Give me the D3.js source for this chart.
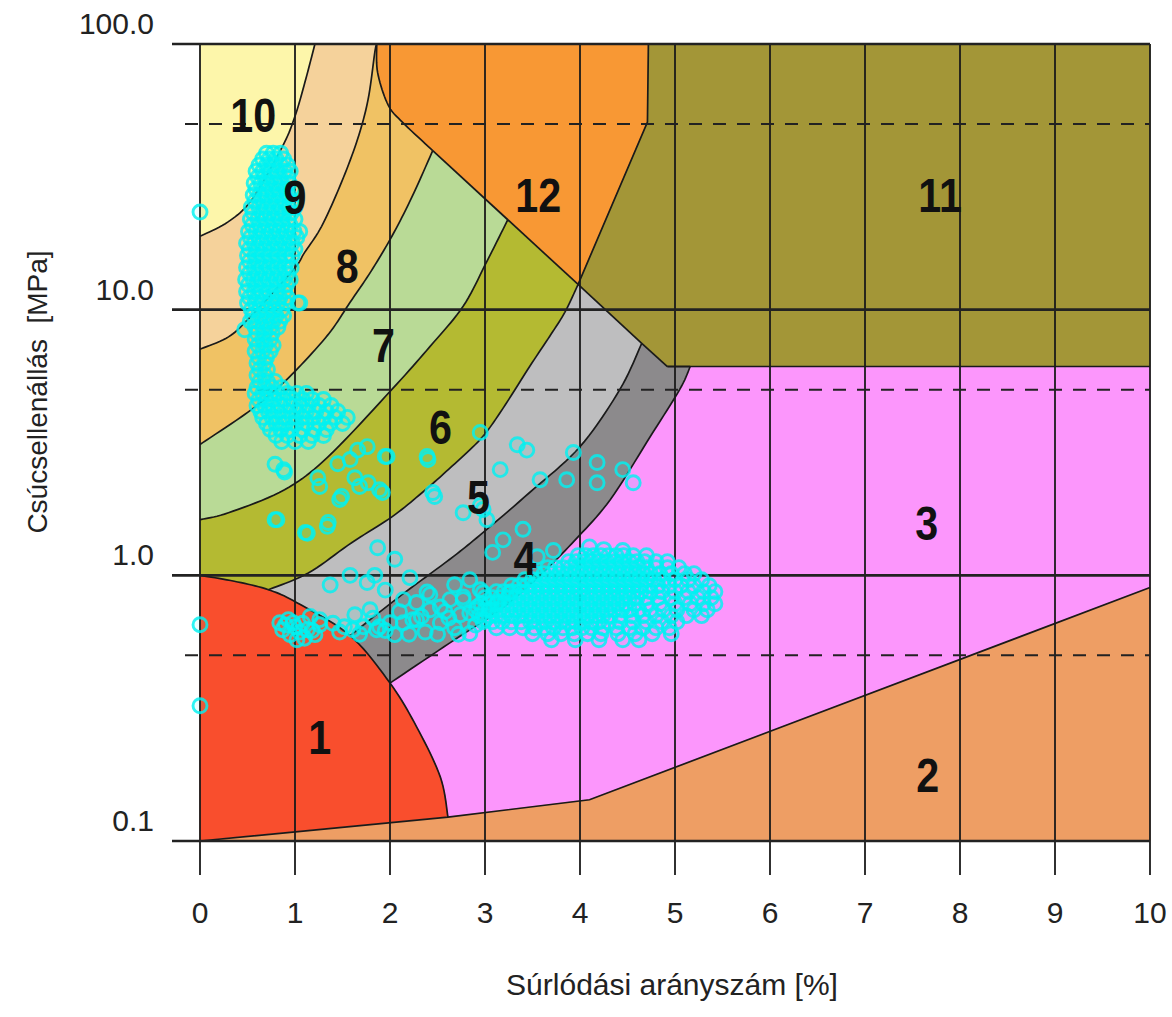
<!DOCTYPE html>
<html>
<head>
<meta charset="utf-8">
<script src="https://cdn.jsdelivr.net/npm/d3@7"></script>
<style>
  body { margin: 0; background: #fff; }
  text { font-family: "Liberation Sans", Arial, Helvetica, sans-serif; }
</style>
</head>
<body>
<svg id="chart" width="1172" height="1017"></svg>
<script>
// ---------------- Axis ticks ----------------
const xTicks = [0, 1, 2, 3, 4, 5, 6, 7, 8, 9, 10];
const yTicksSolid = [0.1, 1, 10, 100];
const yTickLabels = ["0.1", "1.0", "10.0", "100.0"];
const yTicksDashed = [0.5, 5, 50];

// ---------------- Zone boundaries (Rf %, qc MPa) ----------------
// junctions on the diagonal limit of zones 12 / 11
const Ja = [1.86, 100];   // top of the 9/8 limit
const Jb = [2.45, 39.7];  // 8/7 limit meets the diagonal
const Jc = [3.24, 21.8];  // 7/6 limit meets the diagonal
const Jd = [3.98, 12.45]; // 6/5 and 12/11 limits meet the diagonal
const Je = [4.65, 7.47];  // 5/4 limit meets the diagonal
const Jf = [4.92, 6.11];  // end of the diagonal, floor of zone 11
const Jg = [5.16, 6.11];  // top of the 4/3 limit

const edge10_9 = [[1.21, 100], [1.105, 71.9], [1.0, 53.5], [0.87, 41.3], [0.55, 26.1], [0.295, 21.4], [0, 18.9]];
const edge9_8 = [Ja, [1.84, 93], [1.77, 62], [1.66, 44], [1.49, 30.2], [1.28, 20.6], [1.1, 16.4], [0.98, 14.1], [0.53, 9.4], [0.3, 7.9], [0, 7.1]];
const edge12 = [Ja, [1.87, 78], [1.98, 59], [2.13, 50.8], Jb];
const edge8_7 = [Jb, [2.23, 26.5], [2.02, 18.9], [1.8, 13.94], [1.58, 10.66], [1.35, 8.07], [1.0, 5.86], [0.74, 4.80], [0.47, 4.03], [0, 3.11]];
const edge7_6 = [Jc, [3.02, 15.2], [2.77, 10.3], [2.42, 7.26], [2.02, 5.01], [1.35, 2.80], [0.89, 2.10], [0.3, 1.72], [0, 1.62]];
const edge6_5 = [Jd, [3.84, 9.77], [3.68, 7.93], [3.47, 6.11], [3.16, 4.10], [2.95, 3.25], [2.65, 2.57], [2.34, 2.05], [2.02, 1.66], [1.6, 1.33], [1.14, 1.02], [0.72, 0.883]];
const edge5_4 = [Je, [4.42, 5.01], [4.0, 3.05], [3.47, 2.05], [2.95, 1.42], [2.63, 1.15], [2.1, 0.832], [1.58, 0.593]];
const edge4_3 = [Jg, [5.05, 5.01], [4.74, 3.33], [4.32, 1.93], [3.95, 1.36], [3.58, 1.0], [3.16, 0.743], [2.63, 0.557], [2.0, 0.393]];
const edge12_11 = [[4.72, 100], [4.71, 50.8], Jd];
// limit of zone 1; nodes 2, 4 and 5 are where the 6/5, 5/4 and 4/3 limits end
const edge1 = [[0, 1.0], [0.36, 0.95], [0.72, 0.883], [1.02, 0.789], [1.58, 0.593], [2.0, 0.393], [2.28, 0.269], [2.53, 0.174], [2.61, 0.123]];
const edge2 = [[0, 0.1], [2.61, 0.123], [4.1, 0.143], [10, 0.9]];

const zoneColors = {
  1: "#f94e2d", 2: "#ee9e64", 3: "#fc96fc", 4: "#8c8a8c", 5: "#bebebf", 6: "#b4ba32",
  7: "#b9da96", 8: "#f0c264", 9: "#f5d29b", 10: "#fdf6aa", 11: "#a39637", 12: "#f89834"
};

const zoneLabels = [
  { id: "10", rf: 0.56, qc: 54 },
  { id: "9", rf: 1.0, qc: 26.7 },
  { id: "8", rf: 1.55, qc: 14.6 },
  { id: "7", rf: 1.93, qc: 7.4 },
  { id: "6", rf: 2.53, qc: 3.63 },
  { id: "5", rf: 2.93, qc: 1.98 },
  { id: "4", rf: 3.42, qc: 1.166 },
  { id: "3", rf: 7.65, qc: 1.58 },
  { id: "12", rf: 3.56, qc: 27.2 },
  { id: "11", rf: 7.79, qc: 27.0 },
  { id: "1", rf: 1.26, qc: 0.247 },
  { id: "2", rf: 7.66, qc: 0.177 }
];

// ---------------- CPT measurements ----------------
// upper column: [qc, Rf values measured at that qc]
const columnRows = [
  [38.8, [0.70, 0.77, 0.85]],
  [36.9, [0.66, 0.73, 0.80, 0.88]],
  [35.0, [0.62, 0.70, 0.77, 0.85, 0.92]],
  [33.2, [0.59, 0.66, 0.74, 0.81, 0.89, 0.95]],
  [31.5, [0.61, 0.68, 0.76, 0.84, 0.92]],
  [29.9, [0.57, 0.64, 0.71, 0.79, 0.86, 0.94]],
  [28.4, [0.59, 0.67, 0.75, 0.82, 0.90, 0.97]],
  [27.0, [0.56, 0.63, 0.70, 0.78, 0.85, 0.93]],
  [25.6, [0.58, 0.66, 0.74, 0.81, 0.89, 0.97]],
  [24.3, [0.54, 0.62, 0.70, 0.77, 0.85, 0.93, 1.00]],
  [23.1, [0.56, 0.65, 0.73, 0.81, 0.89, 0.96]],
  [21.9, [0.53, 0.61, 0.69, 0.77, 0.85, 0.93, 1.00]],
  [20.8, [0.55, 0.63, 0.71, 0.79, 0.87, 0.95]],
  [19.7, [0.51, 0.59, 0.67, 0.75, 0.83, 0.91, 0.99, 1.05]],
  [18.7, [0.53, 0.62, 0.70, 0.78, 0.86, 0.94, 1.02]],
  [17.8, [0.49, 0.57, 0.65, 0.73, 0.81, 0.89, 0.97]],
  [16.9, [0.52, 0.60, 0.68, 0.76, 0.84, 0.92, 1.00]],
  [16.0, [0.50, 0.58, 0.66, 0.74, 0.82, 0.90, 0.97]],
  [15.2, [0.52, 0.60, 0.68, 0.76, 0.84, 0.92]],
  [14.4, [0.49, 0.57, 0.65, 0.73, 0.81, 0.89, 0.96]],
  [13.7, [0.52, 0.60, 0.68, 0.76, 0.84, 0.92]],
  [13.0, [0.48, 0.56, 0.64, 0.72, 0.80, 0.88, 0.95]],
  [12.4, [0.51, 0.59, 0.67, 0.75, 0.83, 0.91]],
  [11.7, [0.49, 0.57, 0.65, 0.73, 0.81, 0.89]],
  [11.1, [0.52, 0.60, 0.68, 0.76, 0.84, 0.92]],
  [10.6, [0.50, 0.58, 0.66, 0.74, 0.82, 0.90, 1.03]],
  [10.0, [0.54, 0.62, 0.70, 0.78, 0.86]],
  [9.5, [0.56, 0.64, 0.72, 0.80, 0.88]],
  [9.04, [0.53, 0.61, 0.69, 0.77, 0.84]],
  [8.58, [0.58, 0.66, 0.74, 0.82]],
  [8.15, [0.60, 0.68, 0.76]],
  [7.73, [0.58, 0.66, 0.74]],
  [7.34, [0.61, 0.69, 0.77]],
  [6.97, [0.58, 0.66, 0.74]],
  [6.61, [0.62, 0.70]],
  [6.28, [0.60, 0.68]],
  [5.96, [0.63, 0.71]],
  [5.66, [0.60, 0.68]],
  [5.37, [0.63, 0.71, 0.79]],
  [5.10, [0.60, 0.68, 0.76, 0.86]],
  [4.84, [0.58, 0.66, 0.74, 0.82, 0.92, 1.02, 1.12]],
  [4.59, [0.62, 0.70, 0.78, 0.88, 0.98, 1.08, 1.18, 1.30]],
  [4.36, [0.60, 0.68, 0.76, 0.85, 0.95, 1.05, 1.14, 1.25, 1.38]],
  [4.14, [0.64, 0.72, 0.82, 0.92, 1.02, 1.12, 1.22, 1.33, 1.45]],
  [3.93, [0.66, 0.76, 0.87, 0.97, 1.08, 1.19, 1.30, 1.42, 1.55]],
  [3.73, [0.70, 0.80, 0.90, 1.01, 1.12, 1.25, 1.37, 1.50]],
  [3.54, [0.74, 0.85, 0.96, 1.08, 1.20, 1.33]],
  [3.36, [0.80, 0.92, 1.05, 1.18, 1.30]],
  [3.19, [0.86, 1.00, 1.14]]
];

// lower band around qc = 1 MPa: [qc, Rf values]
const bandRows = [
  [1.186, [3.98, 4.06, 4.14, 4.22, 4.30, 4.38, 4.46, 4.56, 4.70]],
  [1.126, [3.88, 3.96, 4.04, 4.12, 4.20, 4.28, 4.36, 4.44, 4.52, 4.60, 4.68, 4.80, 4.92]],
  [1.069, [3.66, 3.74, 3.82, 3.90, 3.98, 4.06, 4.14, 4.22, 4.30, 4.38, 4.46, 4.54, 4.62, 4.70, 4.80, 4.92, 5.04]],
  [1.015, [3.54, 3.62, 3.70, 3.78, 3.86, 3.94, 4.02, 4.10, 4.18, 4.26, 4.34, 4.42, 4.50, 4.58, 4.66, 4.74, 4.84, 4.96, 5.10, 5.20]],
  [0.963, [3.42, 3.50, 3.58, 3.66, 3.74, 3.82, 3.90, 3.98, 4.06, 4.14, 4.22, 4.30, 4.38, 4.46, 4.54, 4.62, 4.70, 4.78, 4.88, 5.00, 5.14, 5.28]],
  [0.914, [3.28, 3.36, 3.44, 3.52, 3.60, 3.68, 3.76, 3.84, 3.92, 4.00, 4.08, 4.16, 4.24, 4.32, 4.40, 4.48, 4.56, 4.64, 4.72, 4.82, 4.94, 5.06, 5.20, 5.36]],
  [0.868, [3.12, 3.20, 3.28, 3.36, 3.44, 3.52, 3.60, 3.68, 3.76, 3.84, 3.92, 4.00, 4.08, 4.16, 4.24, 4.32, 4.40, 4.48, 4.56, 4.64, 4.74, 4.86, 5.00, 5.14, 5.30, 5.42]],
  [0.824, [3.00, 3.08, 3.16, 3.24, 3.32, 3.40, 3.48, 3.56, 3.64, 3.72, 3.80, 3.88, 3.96, 4.04, 4.12, 4.20, 4.28, 4.36, 4.44, 4.52, 4.60, 4.70, 4.82, 4.96, 5.10, 5.24, 5.38]],
  [0.782, [2.96, 3.04, 3.12, 3.20, 3.28, 3.36, 3.44, 3.52, 3.60, 3.68, 3.76, 3.84, 3.92, 4.00, 4.08, 4.16, 4.24, 4.32, 4.40, 4.48, 4.58, 4.70, 4.84, 5.00, 5.16, 5.30, 5.42]],
  [0.742, [2.90, 3.00, 3.08, 3.16, 3.24, 3.32, 3.40, 3.48, 3.56, 3.64, 3.72, 3.80, 3.88, 3.96, 4.04, 4.12, 4.20, 4.28, 4.36, 4.44, 4.52, 4.62, 4.74, 4.88, 5.02, 5.20, 5.34]],
  [0.705, [2.94, 3.04, 3.12, 3.20, 3.28, 3.36, 3.44, 3.52, 3.60, 3.68, 3.76, 3.84, 3.92, 4.00, 4.08, 4.16, 4.24, 4.32, 4.42, 4.54, 4.66, 4.80, 4.96, 5.12, 5.28]],
  [0.669, [2.98, 3.08, 3.18, 3.28, 3.38, 3.48, 3.56, 3.64, 3.72, 3.80, 3.88, 3.96, 4.04, 4.12, 4.20, 4.30, 4.42, 4.56, 4.70, 4.86, 5.02]],
  [0.635, [3.12, 3.26, 3.40, 3.52, 3.62, 3.72, 3.82, 3.92, 4.02, 4.12, 4.24, 4.38, 4.52, 4.66, 4.80, 4.94]],
  [0.603, [3.50, 3.66, 3.80, 3.94, 4.08, 4.22, 4.40, 4.58, 4.76, 4.96]],
  [0.572, [3.70, 3.95, 4.20, 4.45, 4.62]]
];

// single readings: [Rf, qc]
const singlePoints = [
  [0, 23.3], [0, 0.652], [0, 0.323], [1.05, 10.6], [0.47, 8.4],
  [0.89, 2.45], [0.79, 2.62], [0.81, 1.62], [1.13, 1.44], [1.34, 1.53], [0.88, 2.50],
  [1.26, 2.16], [1.47, 1.93], [1.68, 2.16], [1.76, 3.05], [1.97, 2.80], [1.89, 2.10],
  [1.58, 2.73], [2.39, 2.80], [2.45, 2.05], [2.77, 1.72], [2.95, 3.45], [3.16, 2.50],
  [3.44, 2.96], [3.58, 2.29], [3.86, 2.29], [4.18, 2.66], [4.18, 2.23], [4.45, 2.50],
  [4.56, 2.23], [3.93, 2.90], [2.98, 1.77], [3.08, 1.22], [3.19, 1.36], [3.40, 1.49],
  [3.72, 1.24], [3.55, 1.175], [1.24, 2.33], [1.45, 2.63], [1.49, 1.98], [1.63, 2.33],
  [1.77, 2.23], [1.95, 2.80], [1.92, 2.05], [1.66, 2.96], [1.35, 1.58], [1.11, 1.45],
  [0.79, 1.62], [2.40, 2.73], [2.47, 1.98], [2.95, 1.83], [3.02, 1.62], [3.34, 3.1],
  [1.87, 1.27], [2.05, 1.15], [2.21, 0.98], [1.84, 1.0], [1.58, 1.0], [1.95, 0.88], [1.37, 0.92],
  [4.10, 1.28], [4.25, 1.25], [4.45, 1.24],
  [0.98, 0.663], [1.13, 0.624], [0.87, 0.624], [1.02, 0.572], [1.26, 0.652], [1.16, 0.70],
  [0.93, 0.681], [1.05, 0.612], [1.21, 0.598], [0.95, 0.598],
  [1.00, 0.64], [1.08, 0.66], [0.90, 0.65], [1.18, 0.62], [1.10, 0.58],
  [1.72, 0.64], [1.86, 0.624], [2.0, 0.663], [2.14, 0.663], [2.28, 0.681], [2.42, 0.742],
  [2.53, 0.663], [2.63, 0.81], [2.77, 0.83], [2.84, 0.72], [2.98, 0.86], [3.13, 0.79],
  [3.26, 0.86], [2.28, 0.79], [2.14, 0.81], [1.26, 0.681], [1.61, 0.624], [1.89, 0.64],
  [2.24, 0.681], [2.53, 0.76], [2.77, 0.81], [2.95, 0.883], [0.84, 0.663], [1.76, 0.94],
  [2.39, 0.865], [1.47, 0.612], [1.63, 0.711], [1.79, 0.742], [2.05, 0.598], [2.37, 0.612],
  [2.68, 0.635], [2.84, 0.604], [3.0, 0.681], [2.74, 0.711], [2.58, 0.73], [2.1, 0.73],
  [2.42, 0.846], [2.68, 0.922], [2.84, 0.963],
  [1.40, 0.66], [1.52, 0.64], [1.68, 0.60], [1.82, 0.69], [1.95, 0.62], [2.20, 0.60],
  [2.33, 0.70], [2.50, 0.60], [2.62, 0.69], [2.72, 0.60], [2.90, 0.65], [2.92, 0.76], [3.05, 0.74]
];

// ---------------- Scales ----------------
const svg = d3.select("#chart");
const x = d3.scaleLinear().domain([0, 10]).range([200, 1150]);
const y = d3.scaleLog().domain([0.1, 100]).range([841, 44]);
const P = d => [x(d[0]), y(d[1])];

// Catmull-Rom through the boundary nodes, sampled in screen space
const STEPS = 10;
function smooth(nodes) {
  const p = nodes.map(P), n = p.length;
  if (n < 3) return p;
  const out = [];
  for (let i = 0; i < n - 1; i++) {
    const p0 = p[Math.max(i - 1, 0)], p1 = p[i], p2 = p[i + 1], p3 = p[Math.min(i + 2, n - 1)];
    for (let k = 0; k < STEPS; k++) {
      const t = k / STEPS, t2 = t * t, t3 = t2 * t;
      out.push([0, 1].map(j => 0.5 * (2 * p1[j] + (-p0[j] + p2[j]) * t +
        (2 * p0[j] - 5 * p1[j] + 4 * p2[j] - p3[j]) * t2 +
        (-p0[j] + 3 * p1[j] - 3 * p2[j] + p3[j]) * t3)));
    }
  }
  out.push(p[n - 1]);
  return out;
}
const straight = nodes => nodes.map(P);
const rev = a => a.slice().reverse();

const b10 = smooth(edge10_9), b9 = smooth(edge9_8), b12 = smooth(edge12), b8 = smooth(edge8_7);
const b7 = smooth(edge7_6), b6 = smooth(edge6_5), b5 = smooth(edge5_4), b4 = smooth(edge4_3);
const b11 = straight(edge12_11);
const diag1 = straight([Jb, Jc]), diag2 = straight([Jc, Jd]), diag3 = straight([Jd, Je]), diag4 = straight([Je, Jf]);
const top4 = straight([Jf, Jg]);
const arc = smooth(edge1);
const arc6 = arc.slice(0, 2 * STEPS + 1);
const arc5 = arc.slice(2 * STEPS, 4 * STEPS + 1);
const arc4 = arc.slice(4 * STEPS, 5 * STEPS + 1);
const arcTail = arc.slice(5 * STEPS);
const floor2 = straight(edge2);

const zones = [
  { id: 10, pts: [P([0, 100])].concat(b10) },
  { id: 9, pts: b9.concat(rev(b10)) },
  { id: 8, pts: b12.concat(b8, rev(b9)) },
  { id: 7, pts: diag1.concat(b7, rev(b8)) },
  { id: 6, pts: diag2.concat(b6, rev(arc6), rev(b7)) },
  { id: 5, pts: diag3.concat(b5, rev(arc5), rev(b6)) },
  { id: 4, pts: diag4.concat(top4, b4, rev(arc4), rev(b5)) },
  { id: 3, pts: straight([Jg, [10, Jg[1]], edge2[3]]).concat(rev(floor2).slice(1, 3), rev(arcTail), rev(b4)) },
  { id: 1, pts: arc.concat([P([0, 0.1])]) },
  { id: 2, pts: floor2.concat([P([10, 0.1])]) },
  { id: 12, pts: straight([Ja, [4.72, 100]]).concat(b11, rev(diag2), rev(diag1), rev(b12)) },
  { id: 11, pts: straight([[4.72, 100], [10, 100], [10, Jf[1]], Jf]).concat(rev(diag4), rev(diag3), rev(b11)) }
];

const line = d3.line();
svg.append("g").selectAll("path").data(zones).join("path")
  .attr("d", z => line(z.pts) + "Z")
  .attr("fill", z => zoneColors[z.id])
  .attr("stroke", z => zoneColors[z.id])
  .attr("stroke-width", 0.8);

// zone limits
const limits = [b10, b9, b12, b8, b7, b6, b5, b4, b11, diag1, diag2, diag3, diag4, top4, arc, floor2,
  straight([Jf, [10, Jf[1]]])];
svg.append("g").selectAll("path").data(limits).join("path")
  .attr("d", d => line(d))
  .attr("fill", "none").attr("stroke", "#1a1a1a").attr("stroke-width", 1.7);

// ---------------- Grid ----------------
const grid = svg.append("g");
grid.selectAll("line.v").data(xTicks).join("line")
  .attr("x1", d => x(d)).attr("x2", d => x(d))
  .attr("y1", y(100)).attr("y2", y(0.1) + 34)
  .attr("stroke", "#1a1a1a").attr("stroke-width", 1.8);
grid.selectAll("line.h").data(yTicksSolid).join("line")
  .attr("x1", x(0) - 28).attr("x2", x(10))
  .attr("y1", d => y(d)).attr("y2", d => y(d))
  .attr("stroke", "#222").attr("stroke-width", 2.6);
grid.selectAll("line.d").data(yTicksDashed).join("line")
  .attr("x1", x(0) - 15).attr("x2", x(10))
  .attr("y1", d => y(d)).attr("y2", d => y(d))
  .attr("stroke", "#222").attr("stroke-width", 2)
  .attr("stroke-dasharray", "13,11");

// ---------------- Measurements ----------------
const points = [];
columnRows.forEach(([qc, rfs]) => rfs.forEach(rf => points.push([rf, qc])));
bandRows.forEach(([qc, rfs]) => rfs.forEach(rf => points.push([rf, qc])));
singlePoints.forEach(p => points.push(p));

svg.append("g").selectAll("circle").data(points).join("circle")
  .attr("cx", d => x(d[0])).attr("cy", d => y(d[1])).attr("r", 7)
  .attr("fill", "#00f2f2").attr("fill-opacity", 0.07)
  .attr("stroke", "#00f2f2")
  .attr("stroke-width", 2.9).attr("stroke-opacity", 0.82);

// ---------------- Zone numbers ----------------
svg.append("g").selectAll("text").data(zoneLabels).join("text")
  .attr("transform", d => `translate(${x(d.rf)},${y(d.qc)}) scale(0.86,1)`)
  .attr("text-anchor", "middle").attr("dy", "0.36em")
  .attr("font-size", 48).attr("font-weight", "bold").attr("fill", "#111")
  .text(d => d.id);

// ---------------- Axis labels ----------------
svg.append("g").selectAll("text").data(yTicksSolid).join("text")
  .attr("x", 154).attr("y", d => y(d) - 10)
  .attr("text-anchor", "end").attr("font-size", 30).attr("fill", "#222")
  .text((d, i) => yTickLabels[i]);

svg.append("g").selectAll("text").data(xTicks).join("text")
  .attr("x", d => x(d)).attr("y", 923)
  .attr("text-anchor", "middle").attr("font-size", 30).attr("fill", "#222")
  .text(d => d);

svg.append("text")
  .attr("x", 672).attr("y", 995).attr("text-anchor", "middle")
  .attr("font-size", 30).attr("fill", "#222")
  .text("Súrlódási arányszám [%]");

svg.append("text")
  .attr("transform", "translate(47,392) rotate(-90)")
  .attr("text-anchor", "middle").attr("font-size", 28).attr("fill", "#222")
  .attr("xml:space", "preserve")
  .text("Csúcsellenállás  [MPa]");
</script>
</body>
</html>
